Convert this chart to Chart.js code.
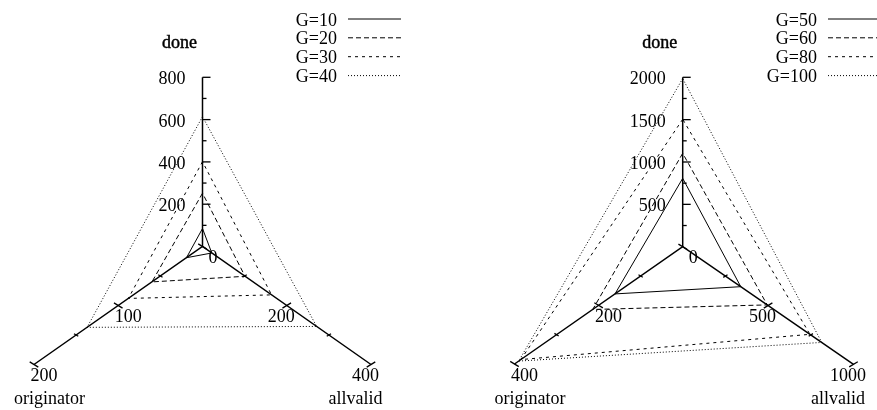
<!DOCTYPE html>
<html><head><meta charset="utf-8">
<script src="https://cdn.jsdelivr.net/npm/chart.js@4/dist/chart.umd.min.js"></script>
<style>html,body{margin:0;padding:0;background:#fff}#wrap{position:relative;width:877px;height:410px}</style>
</head><body><div id="wrap"><canvas id="c" width="877" height="410"></canvas></div>
<script>
// ---- data ----
const axisNames = ['done', 'originator', 'allvalid'];

const leftSeries = ['G=10', 'G=20', 'G=30', 'G=40'];
const leftDone = [85, 252, 401, 614];
const leftOriginator = [19, 60, 88, 137];
const leftAllvalid = [22, 101, 164, 271];
const leftMax = [800, 200, 400];
const leftDoneTicks = [100, 200, 300, 400, 500, 600, 700, 800];
const leftDoneLabels = [200, 400, 600, 800];
const leftOriginatorTicks = [0, 50, 100, 150, 200];
const leftOriginatorLabels = [100, 200];
const leftAllvalidTicks = [100, 200, 300, 400];
const leftAllvalidLabels = [200, 400];

const rightSeries = ['G=50', 'G=60', 'G=80', 'G=100'];
const rightDone = [807, 1103, 1504, 1985];
const rightOriginator = [161, 214, 385, 390];
const rightAllvalid = [340, 495, 745, 814];
const rightMax = [2000, 400, 1000];
const rightDoneTicks = [250, 500, 750, 1000, 1250, 1500, 1750, 2000];
const rightDoneLabels = [500, 1000, 1500, 2000];
const rightOriginatorTicks = [0, 100, 200, 300, 400];
const rightOriginatorLabels = [200, 400];
const rightAllvalidTicks = [250, 500, 750, 1000];
const rightAllvalidLabels = [500, 1000];

// ---- layout / style ----
const FONT = '18px "Liberation Serif", "Times New Roman", serif';
const dashes = [[], [5, 3], [3, 4], [1, 2]];
const panels = [
  { center: [202.5, 246.5], ends: [[202.5, 77.3], [34, 364.5], [371, 364.5]],
    max: leftMax, series: leftSeries, values: [leftDone, leftOriginator, leftAllvalid],
    ticks: [leftDoneTicks, leftOriginatorTicks, leftAllvalidTicks],
    labels: [leftDoneLabels, leftOriginatorLabels, leftAllvalidLabels],
    legendX: 337, sampleX: [348, 401] },
  { center: [682.7, 246.7], ends: [[682.7, 77.3], [514.5, 364], [853.5, 364.3]],
    max: rightMax, series: rightSeries, values: [rightDone, rightOriginator, rightAllvalid],
    ticks: [rightDoneTicks, rightOriginatorTicks, rightAllvalidTicks],
    labels: [rightDoneLabels, rightOriginatorLabels, rightAllvalidLabels],
    legendX: 817, sampleX: [828, 881] }
];
const legendY = [19, 37.8, 56.7, 75.6];

function proj(p, k, v) {
  const c = p.center, e = p.ends[k], f = v / p.max[k];
  return { x: c[0] + f * (e[0] - c[0]), y: c[1] + f * (e[1] - c[1]) };
}

const datasets = [];
panels.forEach((p, pi) => {
  // axes
  datasets.push({ label: 'axis', data: [proj(p, 1, p.max[1]), proj(p, 1, 0), proj(p, 2, p.max[2])],
    borderColor: '#000', borderWidth: 1.5, showLine: true, pointRadius: 0, fill: false });
  datasets.push({ label: 'axis', data: [proj(p, 0, 0), proj(p, 0, p.max[0])],
    borderColor: '#000', borderWidth: 1.5, showLine: true, pointRadius: 0, fill: false });
  p.series.forEach((name, si) => {
    const pts = [0, 1, 2].map(k => proj(p, k, p.values[k][si]));
    pts.push(pts[0]);
    datasets.push({ label: name, panel: pi, data: pts, borderColor: '#000', borderWidth: 1,
      borderDash: dashes[si], showLine: true, pointRadius: 0, fill: false, tension: 0 });
  });
});

const deco = {
  id: 'deco',
  afterDatasetsDraw(chart) {
    const ctx = chart.ctx, sx = chart.scales.x, sy = chart.scales.y;
    const P = (pt) => ({ x: sx.getPixelForValue(pt.x), y: sy.getPixelForValue(pt.y) });
    ctx.save();
    ctx.fillStyle = '#000'; ctx.strokeStyle = '#000';
    ctx.font = FONT;
    panels.forEach((p, pi) => {
      // done ticks (to the right)
      ctx.lineWidth = 1.3;
      p.ticks[0].forEach(v => {
        const q = P(proj(p, 0, v));
        const len = p.labels[0].includes(v) ? 8 : 4;
        ctx.beginPath(); ctx.moveTo(q.x, q.y); ctx.lineTo(q.x + len, q.y); ctx.stroke();
      });
      // originator / allvalid ticks (crossing)
      [[1, 1], [2, -1]].forEach(([k, s]) => {
        p.ticks[k].forEach(v => {
          const q = P(proj(p, k, v));
          const h = p.labels[k].includes(v) || v === 0 ? 5 : 2.5;
          const dx = 0.857 * s * h, dy = 0.514 * h;
          ctx.beginPath(); ctx.moveTo(q.x - dx, q.y - dy); ctx.lineTo(q.x + dx, q.y + dy); ctx.stroke();
        });
      });
      // done labels
      ctx.textAlign = 'right'; ctx.textBaseline = 'alphabetic';
      p.labels[0].forEach(v => {
        const q = P(proj(p, 0, v));
        ctx.fillText(String(v), q.x - 17, q.y + 7);
      });
      ctx.textAlign = 'center';
      const c0 = P(proj(p, 0, 0));
      ctx.fillText('0', c0.x + 10.5, c0.y + 16.5);
      p.labels[1].forEach(v => {
        const q = P(proj(p, 1, v));
        ctx.fillText(String(v), q.x + 10, q.y + 16.5);
      });
      p.labels[2].forEach(v => {
        const q = P(proj(p, 2, v));
        ctx.fillText(String(v), q.x - 5.5, q.y + 16.5);
      });
      // axis names
      const dn = P(proj(p, 0, p.max[0]));
      ctx.lineWidth = 0.45;
      ctx.fillText(axisNames[0], dn.x - 23, 47.5);
      ctx.strokeText(axisNames[0], dn.x - 23, 47.5);
      const on = P(proj(p, 1, p.max[1]));
      ctx.fillText(axisNames[1], on.x + 15.5, 404);
      const an = P(proj(p, 2, p.max[2]));
      ctx.fillText(axisNames[2], an.x - 15.5, 404);
      // legend
      p.series.forEach((name, si) => {
        const y = legendY[si];
        ctx.textAlign = 'right'; ctx.textBaseline = 'alphabetic';
        ctx.fillText(name, p.legendX, y + 6.5);
        ctx.lineWidth = 1; ctx.setLineDash(dashes[si]);
        ctx.beginPath(); ctx.moveTo(p.sampleX[0], y); ctx.lineTo(p.sampleX[1], y); ctx.stroke();
        ctx.setLineDash([]);
      });
    });
    ctx.restore();
  }
};

new Chart(document.getElementById('c'), {
  type: 'scatter',
  data: { datasets },
  options: {
    responsive: false, animation: false,
    layout: { padding: 0 },
    scales: {
      x: { type: 'linear', min: 0, max: 877, display: false },
      y: { type: 'linear', min: 0, max: 410, reverse: true, display: false }
    },
    plugins: { legend: { display: false }, tooltip: { enabled: false } },
    elements: { line: { borderCapStyle: 'butt' } }
  },
  plugins: [deco]
});
</script>
</body></html>
